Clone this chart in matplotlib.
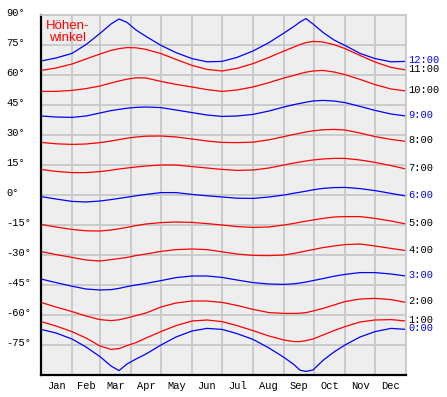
import matplotlib
matplotlib.use("Agg")
import matplotlib.pyplot as plt
import matplotlib.transforms as mtransforms

# day of year at which values were read
days = [0, 15, 31, 45, 59, 70, 78, 86, 95, 105, 120, 135, 151, 166, 181,
        196, 212, 228, 243, 253, 259, 265, 272, 282, 293, 304, 319, 334, 350, 365]

h12 = [67.0, 68.5, 70.8, 75.2, 80.8, 85.5, 88.0, 86.3, 82.5, 79.3, 74.8, 71.2, 68.2, 66.6, 66.8,
       68.8, 72.0, 76.2, 81.0, 84.3, 86.5, 88.2, 85.5, 81.3, 77.5, 74.8, 70.8, 68.2, 66.6, 66.8]
h11 = [62.3, 63.5, 65.5, 68.0, 70.5, 72.3, 73.2, 73.7, 73.6, 72.8, 70.7, 67.8, 64.8, 62.8, 62.0,
       63.3, 65.7, 68.8, 72.0, 74.0, 75.2, 76.2, 76.8, 76.5, 75.2, 73.2, 69.8, 66.5, 63.8, 62.5]
h10 = [51.8, 51.8, 52.3, 53.2, 54.5, 56.0, 57.0, 57.9, 58.6, 58.5, 56.8, 55.3, 54.0, 52.7, 51.8,
       52.5, 54.0, 56.2, 58.5, 59.8, 60.7, 61.4, 62.0, 62.3, 61.5, 60.2, 57.8, 55.2, 53.0, 52.0]
h9 = [39.5, 39.0, 38.8, 39.5, 41.0, 42.2, 42.8, 43.4, 43.8, 44.0, 43.7, 42.5, 41.2, 40.0, 39.3,
      39.5, 40.3, 42.0, 44.0, 45.2, 45.8, 46.4, 47.0, 47.3, 47.0, 46.2, 44.3, 42.3, 40.5, 39.5]
h8 = [26.3, 25.6, 25.3, 25.5, 26.2, 27.0, 27.7, 28.4, 29.0, 29.4, 29.5, 29.0, 28.0, 27.0, 26.3,
      26.2, 26.4, 27.6, 29.2, 30.3, 30.9, 31.5, 32.1, 32.6, 32.8, 32.5, 31.0, 29.2, 27.8, 26.8]
h7 = [12.8, 11.8, 11.2, 11.2, 11.7, 12.4, 13.0, 13.5, 14.0, 14.5, 15.0, 15.0, 14.2, 13.5, 12.8,
      12.3, 12.5, 13.5, 15.0, 16.0, 16.5, 17.0, 17.5, 18.0, 18.3, 18.3, 17.5, 16.3, 14.7, 13.0]
h6 = [-0.8, -2.0, -3.2, -3.5, -3.0, -2.3, -1.7, -1.1, -0.4, 0.3, 1.2, 1.2, 0.3, -0.4, -1.0,
      -1.6, -1.7, -1.0, 0.0, 0.9, 1.4, 1.9, 2.6, 3.3, 3.7, 3.8, 3.2, 2.2, 0.8, -0.5]
h5 = [-14.7, -16.0, -17.2, -17.9, -18.0, -17.5, -16.9, -16.2, -15.3, -14.5, -13.8, -13.5, -13.7, -14.3, -15.0,
      -15.8, -16.2, -16.0, -15.0, -14.2, -13.6, -13.1, -12.5, -11.7, -11.0, -10.8, -10.8, -11.7, -13.0, -14.5]
h4 = [-28.3, -29.8, -31.2, -32.5, -33.0, -32.3, -31.8, -31.2, -30.3, -29.5, -28.2, -27.3, -27.0, -27.3, -28.4,
      -29.5, -30.2, -30.3, -30.0, -29.2, -28.6, -28.0, -27.3, -26.3, -25.5, -24.8, -24.5, -25.5, -26.7, -27.8]
h3 = [-42.0, -43.8, -45.6, -47.0, -47.5, -47.3, -46.7, -45.8, -45.0, -44.2, -42.8, -41.3, -40.5, -40.5, -41.2,
      -42.5, -43.8, -44.5, -44.7, -44.4, -44.0, -43.5, -42.8, -41.8, -40.6, -39.7, -38.8, -38.8, -39.5, -40.5]
h2 = [-53.7, -56.0, -58.3, -60.5, -62.3, -62.8, -62.4, -61.5, -60.3, -59.0, -56.0, -54.0, -53.0, -53.0, -53.7,
      -55.2, -57.2, -58.8, -59.2, -59.2, -59.1, -58.8, -58.0, -56.7, -55.0, -53.3, -52.0, -51.7, -52.3, -53.7]
h1 = [-63.3, -65.5, -68.3, -71.5, -75.5, -77.2, -76.8, -75.3, -73.8, -71.5, -68.3, -65.3, -63.0, -62.5, -63.3,
      -65.3, -67.8, -70.5, -72.5, -73.3, -73.3, -72.8, -72.0, -70.0, -67.8, -65.8, -63.5, -62.5, -62.3, -63.0]
h0 = [-67.2, -69.0, -72.0, -76.0, -80.8, -85.5, -87.8, -84.5, -82.0, -79.5, -75.0, -71.0, -68.0, -66.7, -67.2,
      -69.3, -72.2, -76.5, -81.2, -84.8, -87.6, -88.2, -87.5, -82.7, -78.5, -75.0, -71.0, -68.3, -66.7, -67.2]

hours = ["0:00", "1:00", "2:00", "3:00", "4:00", "5:00", "6:00",
         "7:00", "8:00", "9:00", "10:00", "11:00", "12:00"]
series = [h0, h1, h2, h3, h4, h5, h6, h7, h8, h9, h10, h11, h12]

months = ["Jan", "Feb", "Mar", "Apr", "May", "Jun",
          "Jul", "Aug", "Sep", "Oct", "Nov", "Dec"]
month_starts = [0, 31, 59, 90, 120, 151, 181, 212, 243, 273, 304, 334, 365]
month_mids = [(a + b) / 2 for a, b in zip(month_starts[:-1], month_starts[1:])]

ytick_vals = [90, 75, 60, 45, 30, 15, 0, -15, -30, -45, -60, -75]
ytick_labels = ["90°", "75°", "60°", "45°", "30°", "15°", "0°",
                "-15°", "-30°", "-45°", "-60°", "-75°"]

mono = "Liberation Mono"
gridc = "#c8c8c8"

fig = plt.figure(figsize=(4.47, 3.97), dpi=100)
ax = fig.add_axes([41 / 447, 22 / 397, 365 / 447, 360 / 397])
ax.set_facecolor("#eeeeee")
ax.set_xlim(0, 365)
ax.set_ylim(-90, 90)

for i, (name, vals) in enumerate(zip(hours, series)):
    col = "#0000ff" if i % 3 == 0 else "#ff0000"
    ax.plot(days, vals, color=col, lw=0.9)
    ax.annotate(name, xy=(days[-1], vals[-1]), xytext=(2, 1),
                textcoords="offset pixels", annotation_clip=False,
                ha="left", va="center", fontsize=7.5, family=mono,
                color="#0000ff" if i % 3 == 0 else "black")

ax.set_xticks(month_starts)
ax.set_xticklabels([])
ax.set_xticks(month_mids, minor=True)
ax.set_xticklabels(months, minor=True, family=mono, fontsize=7.5)
ax.set_yticks(ytick_vals)
ax.set_yticklabels(ytick_labels, family=mono, fontsize=7.5)
ax.tick_params(axis="both", which="both", length=0)
ax.tick_params(axis="x", which="minor", pad=4)
ax.tick_params(axis="y", pad=25.2)
shift = mtransforms.ScaledTranslation(0, 3 / 100, fig.dpi_scale_trans)
for lab in ax.get_yticklabels():
    lab.set_horizontalalignment("left")
    lab.set_transform(lab.get_transform() + shift)

ax.grid(True, which="major", color=gridc, lw=1.3)
ax.set_axisbelow(True)
for s in ["top", "right"]:
    ax.spines[s].set_color(gridc)
    ax.spines[s].set_linewidth(1.3)
for s in ["left", "bottom"]:
    ax.spines[s].set_color("black")
    ax.spines[s].set_linewidth(1.6)

ax.text(0.072, 0.985, "Höhen-\nwinkel", transform=ax.transAxes, color="#ff0000",
        fontsize=9.5, family="Liberation Sans", ha="center", va="top", linespacing=1.0)

fig.savefig("out.png", dpi=100)
